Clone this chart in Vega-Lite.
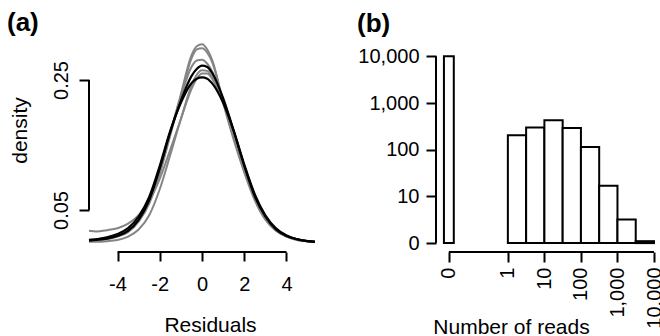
{
"$schema": "https://vega.github.io/schema/vega-lite/v6.json",
"padding": {"left": 7, "top": 10, "right": 0, "bottom": 0},
"background": "white",
"bounds": "flush",
"spacing": 121,
"config": {
"font": "Liberation Sans",
"view": {"stroke": null},
"axis": {"grid": false, "domain": false, "tickColor": "black", "tickWidth": 2, "labelColor": "black", "titleColor": "black", "labelFontSize": 20, "titleFontSize": 21, "titleFontWeight": "normal", "labelFont": "Liberation Sans", "titleFont": "Liberation Sans", "labelFlush": false, "labelOverlap": false},
"title": {"fontSize": 26, "fontWeight": "bold", "anchor": "start", "frame": "group", "color": "black", "font": "Liberation Sans", "baseline": "alphabetic"}
},
"datasets": {
"dens": [
{"curve":"g1","group":"other","x":-5.35,"density":0.004},{"curve":"g1","group":"other","x":-5,"density":0.005},{"curve":"g1","group":"other","x":-4.5,"density":0.007},{"curve":"g1","group":"other","x":-4,"density":0.011},{"curve":"g1","group":"other","x":-3.5,"density":0.018},{"curve":"g1","group":"other","x":-3,"density":0.033},{"curve":"g1","group":"other","x":-2.5,"density":0.062},{"curve":"g1","group":"other","x":-2,"density":0.108},{"curve":"g1","group":"other","x":-1.5,"density":0.168},{"curve":"g1","group":"other","x":-1,"density":0.228},{"curve":"g1","group":"other","x":-0.5,"density":0.288},{"curve":"g1","group":"other","x":-0.25,"density":0.302},{"curve":"g1","group":"other","x":0,"density":0.305},{"curve":"g1","group":"other","x":0.25,"density":0.297},{"curve":"g1","group":"other","x":0.5,"density":0.279},{"curve":"g1","group":"other","x":1,"density":0.215},{"curve":"g1","group":"other","x":1.5,"density":0.158},{"curve":"g1","group":"other","x":2,"density":0.108},{"curve":"g1","group":"other","x":2.5,"density":0.065},{"curve":"g1","group":"other","x":3,"density":0.035},{"curve":"g1","group":"other","x":3.5,"density":0.018},{"curve":"g1","group":"other","x":4,"density":0.009},{"curve":"g1","group":"other","x":4.5,"density":0.004},{"curve":"g1","group":"other","x":5,"density":0.002},{"curve":"g1","group":"other","x":5.35,"density":0.001},
{"curve":"g2","group":"other","x":-5.35,"density":0.002},{"curve":"g2","group":"other","x":-5,"density":0.003},{"curve":"g2","group":"other","x":-4.5,"density":0.005},{"curve":"g2","group":"other","x":-4,"density":0.009},{"curve":"g2","group":"other","x":-3.5,"density":0.016},{"curve":"g2","group":"other","x":-3,"density":0.032},{"curve":"g2","group":"other","x":-2.5,"density":0.06},{"curve":"g2","group":"other","x":-2,"density":0.106},{"curve":"g2","group":"other","x":-1.5,"density":0.165},{"curve":"g2","group":"other","x":-1,"density":0.225},{"curve":"g2","group":"other","x":-0.5,"density":0.283},{"curve":"g2","group":"other","x":-0.25,"density":0.297},{"curve":"g2","group":"other","x":0,"density":0.299},{"curve":"g2","group":"other","x":0.25,"density":0.292},{"curve":"g2","group":"other","x":0.5,"density":0.276},{"curve":"g2","group":"other","x":1,"density":0.218},{"curve":"g2","group":"other","x":1.5,"density":0.162},{"curve":"g2","group":"other","x":2,"density":0.111},{"curve":"g2","group":"other","x":2.5,"density":0.068},{"curve":"g2","group":"other","x":3,"density":0.037},{"curve":"g2","group":"other","x":3.5,"density":0.019},{"curve":"g2","group":"other","x":4,"density":0.009},{"curve":"g2","group":"other","x":4.5,"density":0.004},{"curve":"g2","group":"other","x":5,"density":0.002},{"curve":"g2","group":"other","x":5.35,"density":0.001},
{"curve":"g3","group":"other","x":-5.35,"density":0.003},{"curve":"g3","group":"other","x":-5,"density":0.004},{"curve":"g3","group":"other","x":-4.5,"density":0.006},{"curve":"g3","group":"other","x":-4,"density":0.01},{"curve":"g3","group":"other","x":-3.5,"density":0.018},{"curve":"g3","group":"other","x":-3,"density":0.035},{"curve":"g3","group":"other","x":-2.5,"density":0.065},{"curve":"g3","group":"other","x":-2,"density":0.112},{"curve":"g3","group":"other","x":-1.5,"density":0.17},{"curve":"g3","group":"other","x":-1,"density":0.224},{"curve":"g3","group":"other","x":-0.5,"density":0.27},{"curve":"g3","group":"other","x":-0.25,"density":0.28},{"curve":"g3","group":"other","x":0,"density":0.281},{"curve":"g3","group":"other","x":0.25,"density":0.275},{"curve":"g3","group":"other","x":0.5,"density":0.262},{"curve":"g3","group":"other","x":1,"density":0.218},{"curve":"g3","group":"other","x":1.5,"density":0.165},{"curve":"g3","group":"other","x":2,"density":0.113},{"curve":"g3","group":"other","x":2.5,"density":0.068},{"curve":"g3","group":"other","x":3,"density":0.037},{"curve":"g3","group":"other","x":3.5,"density":0.019},{"curve":"g3","group":"other","x":4,"density":0.01},{"curve":"g3","group":"other","x":4.5,"density":0.005},{"curve":"g3","group":"other","x":5,"density":0.002},{"curve":"g3","group":"other","x":5.35,"density":0.001},
{"curve":"g4","group":"other","x":-5.35,"density":0.018},{"curve":"g4","group":"other","x":-5,"density":0.017},{"curve":"g4","group":"other","x":-4.5,"density":0.019},{"curve":"g4","group":"other","x":-4,"density":0.022},{"curve":"g4","group":"other","x":-3.5,"density":0.029},{"curve":"g4","group":"other","x":-3,"density":0.042},{"curve":"g4","group":"other","x":-2.5,"density":0.064},{"curve":"g4","group":"other","x":-2,"density":0.098},{"curve":"g4","group":"other","x":-1.5,"density":0.143},{"curve":"g4","group":"other","x":-1,"density":0.19},{"curve":"g4","group":"other","x":-0.5,"density":0.236},{"curve":"g4","group":"other","x":-0.25,"density":0.252},{"curve":"g4","group":"other","x":0,"density":0.26},{"curve":"g4","group":"other","x":0.25,"density":0.26},{"curve":"g4","group":"other","x":0.5,"density":0.251},{"curve":"g4","group":"other","x":1,"density":0.216},{"curve":"g4","group":"other","x":1.5,"density":0.168},{"curve":"g4","group":"other","x":2,"density":0.115},{"curve":"g4","group":"other","x":2.5,"density":0.07},{"curve":"g4","group":"other","x":3,"density":0.038},{"curve":"g4","group":"other","x":3.5,"density":0.02},{"curve":"g4","group":"other","x":4,"density":0.01},{"curve":"g4","group":"other","x":4.5,"density":0.005},{"curve":"g4","group":"other","x":5,"density":0.002},{"curve":"g4","group":"other","x":5.35,"density":0.001},
{"curve":"g5","group":"other","x":-5.35,"density":0.001},{"curve":"g5","group":"other","x":-5,"density":0.001},{"curve":"g5","group":"other","x":-4.5,"density":0.002},{"curve":"g5","group":"other","x":-4,"density":0.004},{"curve":"g5","group":"other","x":-3.5,"density":0.009},{"curve":"g5","group":"other","x":-3,"density":0.02},{"curve":"g5","group":"other","x":-2.5,"density":0.042},{"curve":"g5","group":"other","x":-2,"density":0.082},{"curve":"g5","group":"other","x":-1.5,"density":0.135},{"curve":"g5","group":"other","x":-1,"density":0.19},{"curve":"g5","group":"other","x":-0.5,"density":0.241},{"curve":"g5","group":"other","x":-0.25,"density":0.258},{"curve":"g5","group":"other","x":0,"density":0.265},{"curve":"g5","group":"other","x":0.25,"density":0.264},{"curve":"g5","group":"other","x":0.5,"density":0.255},{"curve":"g5","group":"other","x":1,"density":0.221},{"curve":"g5","group":"other","x":1.5,"density":0.171},{"curve":"g5","group":"other","x":2,"density":0.119},{"curve":"g5","group":"other","x":2.5,"density":0.073},{"curve":"g5","group":"other","x":3,"density":0.04},{"curve":"g5","group":"other","x":3.5,"density":0.021},{"curve":"g5","group":"other","x":4,"density":0.011},{"curve":"g5","group":"other","x":4.5,"density":0.005},{"curve":"g5","group":"other","x":5,"density":0.002},{"curve":"g5","group":"other","x":5.35,"density":0.001},
{"curve":"k1","group":"main","x":-5.35,"density":0.003},{"curve":"k1","group":"main","x":-5,"density":0.004},{"curve":"k1","group":"main","x":-4.5,"density":0.006},{"curve":"k1","group":"main","x":-4,"density":0.01},{"curve":"k1","group":"main","x":-3.5,"density":0.018},{"curve":"k1","group":"main","x":-3,"density":0.035},{"curve":"k1","group":"main","x":-2.5,"density":0.065},{"curve":"k1","group":"main","x":-2,"density":0.114},{"curve":"k1","group":"main","x":-1.5,"density":0.17},{"curve":"k1","group":"main","x":-1,"density":0.218},{"curve":"k1","group":"main","x":-0.5,"density":0.256},{"curve":"k1","group":"main","x":-0.25,"density":0.267},{"curve":"k1","group":"main","x":0,"density":0.272},{"curve":"k1","group":"main","x":0.25,"density":0.27},{"curve":"k1","group":"main","x":0.5,"density":0.26},{"curve":"k1","group":"main","x":1,"density":0.222},{"curve":"k1","group":"main","x":1.5,"density":0.172},{"curve":"k1","group":"main","x":2,"density":0.118},{"curve":"k1","group":"main","x":2.5,"density":0.071},{"curve":"k1","group":"main","x":3,"density":0.04},{"curve":"k1","group":"main","x":3.5,"density":0.02},{"curve":"k1","group":"main","x":4,"density":0.01},{"curve":"k1","group":"main","x":4.5,"density":0.005},{"curve":"k1","group":"main","x":5,"density":0.002},{"curve":"k1","group":"main","x":5.35,"density":0.001},
{"curve":"k2","group":"main","x":-5.35,"density":0.004},{"curve":"k2","group":"main","x":-5,"density":0.005},{"curve":"k2","group":"main","x":-4.5,"density":0.008},{"curve":"k2","group":"main","x":-4,"density":0.013},{"curve":"k2","group":"main","x":-3.5,"density":0.022},{"curve":"k2","group":"main","x":-3,"density":0.04},{"curve":"k2","group":"main","x":-2.5,"density":0.07},{"curve":"k2","group":"main","x":-2,"density":0.118},{"curve":"k2","group":"main","x":-1.5,"density":0.172},{"curve":"k2","group":"main","x":-1,"density":0.215},{"curve":"k2","group":"main","x":-0.5,"density":0.245},{"curve":"k2","group":"main","x":-0.25,"density":0.252},{"curve":"k2","group":"main","x":0,"density":0.254},{"curve":"k2","group":"main","x":0.25,"density":0.252},{"curve":"k2","group":"main","x":0.5,"density":0.244},{"curve":"k2","group":"main","x":1,"density":0.215},{"curve":"k2","group":"main","x":1.5,"density":0.172},{"curve":"k2","group":"main","x":2,"density":0.12},{"curve":"k2","group":"main","x":2.5,"density":0.074},{"curve":"k2","group":"main","x":3,"density":0.042},{"curve":"k2","group":"main","x":3.5,"density":0.022},{"curve":"k2","group":"main","x":4,"density":0.011},{"curve":"k2","group":"main","x":4.5,"density":0.005},{"curve":"k2","group":"main","x":5,"density":0.002},{"curve":"k2","group":"main","x":5.35,"density":0.001}
],
"hist": [
{"bin":"0","lo":-1.75,"hi":-1.48,"count":10000},
{"bin":"b1","lo":0,"hi":0.5,"count":205},
{"bin":"b2","lo":0.5,"hi":1,"count":300},
{"bin":"b3","lo":1,"hi":1.5,"count":430},
{"bin":"b4","lo":1.5,"hi":2,"count":292},
{"bin":"b5","lo":2,"hi":2.5,"count":115},
{"bin":"b6","lo":2.5,"hi":3,"count":17},
{"bin":"b7","lo":3,"hi":3.5,"count":3.2},
{"bin":"b8","lo":3.5,"hi":4,"count":1.1}
]
},
"hconcat": [
{
"width": 226, "height": 211,
"title": {"text": "(a)", "dx": -82, "offset": 4},
"layer": [
{"data": {"name": "dens"}, "transform": [{"filter": "datum.group == 'other'"}],
"mark": {"type": "line", "interpolate": "monotone", "color": "#858585", "strokeWidth": 2},
"encoding": {
"x": {"field": "x", "type": "quantitative", "scale": {"domain": [-5.35, 5.35], "nice": false, "zero": false},
"axis": {"values": [-4, -2, 0, 2, 4], "labelExpr": "datum.value < 0 ? '-' + abs(datum.value) : '' + datum.value", "title": "Residuals", "tickSize": 9, "labelPadding": 29, "labelBaseline": "alphabetic", "titleX": 121, "titleY": 79, "titleBaseline": "alphabetic", "titleAlign": "center"}},
"y": {"field": "density", "type": "quantitative", "scale": {"domain": [-0.0146, 0.31], "nice": false, "zero": false},
"axis": {"values": [0.05, 0.25], "format": ".2f", "title": "density", "tickSize": 10, "labelAngle": 270, "labelAlign": "center", "labelBaseline": "alphabetic", "labelPadding": 12, "titleAngle": 270, "titleX": -69, "titleY": 89, "titleAlign": "center", "titleBaseline": "middle"}},
"detail": {"field": "curve"}
}},
{"data": {"name": "dens"}, "transform": [{"filter": "datum.group == 'main'"}],
"mark": {"type": "line", "interpolate": "monotone", "color": "#000000", "strokeWidth": 2.2},
"encoding": {
"x": {"field": "x", "type": "quantitative"},
"y": {"field": "density", "type": "quantitative"},
"detail": {"field": "curve"}
}},
{"data": {"values": [{}]}, "mark": {"type": "rule", "color": "black", "strokeWidth": 2},
"encoding": {"x": {"datum": -5.35}, "y": {"datum": 0.05}, "y2": {"datum": 0.25}}},
{"data": {"values": [{}]}, "mark": {"type": "rule", "color": "black", "strokeWidth": 2},
"encoding": {"x": {"datum": -4}, "x2": {"datum": 4}, "y": {"datum": -0.0146}}}
]
},
{
"width": 218, "height": 211,
"title": {"text": "(b)", "dx": -79, "offset": 4},
"layer": [
{"data": {"name": "hist"},
"mark": {"type": "rect", "fill": "white", "stroke": "black", "strokeWidth": 2},
"encoding": {
"x": {"field": "lo", "type": "quantitative", "scale": {"domain": [-1.967, 4.0], "nice": false, "zero": false},
"axis": {"values": [-1.616, 0, 1, 2, 3, 4], "labelExpr": "datum.value < -1 ? '0' : format(pow(10, datum.value), ',')", "labelAngle": 270, "labelAlign": "right", "labelBaseline": "middle", "tickSize": 10, "labelPadding": 5, "title": "Number of reads", "titleX": 75, "titleY": 81, "titleAlign": "center", "titleBaseline": "alphabetic"}},
"x2": {"field": "hi"},
"y": {"field": "count", "type": "quantitative", "scale": {"type": "log", "domain": [0.645, 21300], "nice": false},
"axis": {"values": [1, 10, 100, 1000, 10000], "labelExpr": "datum.value == 1 ? '0' : format(datum.value, ',')", "tickSize": 10, "labelPadding": 7, "title": null}},
"y2": {"datum": 1}
}},
{"data": {"values": [{}]}, "mark": {"type": "rule", "color": "black", "strokeWidth": 2},
"encoding": {"x": {"datum": -1.967}, "y": {"datum": 1}, "y2": {"datum": 10000}}},
{"data": {"values": [{}]}, "mark": {"type": "rule", "color": "black", "strokeWidth": 2},
"encoding": {"x": {"datum": -1.616}, "x2": {"datum": 4}, "y": {"datum": 0.645}}}
]
}
]
}
